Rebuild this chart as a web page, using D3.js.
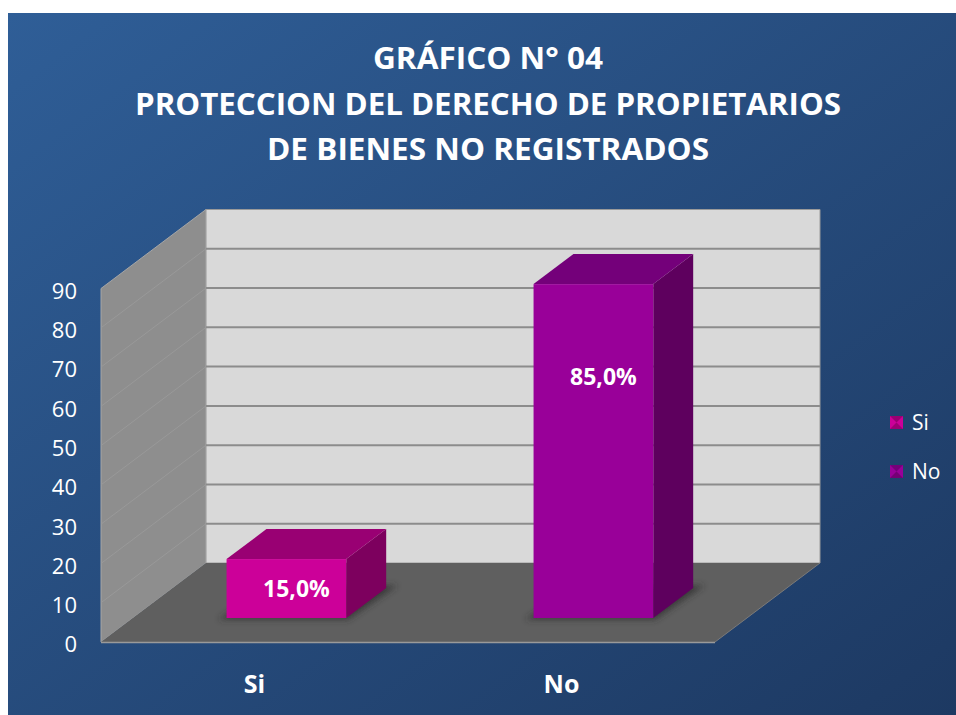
<!DOCTYPE html>
<html>
<head>
<meta charset="utf-8">
<script src="https://cdn.jsdelivr.net/npm/d3@7"></script>
<style>
  html, body { margin: 0; padding: 0; background: #ffffff; }
  svg { display: block; }
  text { font-family: "Open Sans", "Liberation Sans", sans-serif; fill: #ffffff; }
</style>
</head>
<body>
<div id="chart"></div>
<script>
// ---------- data ----------
const titleLines = ["GRÁFICO N° 04", "PROTECCION DEL DERECHO DE PROPIETARIOS", "DE BIENES NO REGISTRADOS"];
const categories = ["Si", "No"];
const values = [15.0, 85.0];
const valueLabels = ["15,0%", "85,0%"];
const yTicks = [0, 10, 20, 30, 40, 50, 60, 70, 80, 90];
const legendItems = ["Si", "No"];

// ---------- styles ----------
const barStyles = [
  { front: "#cc0099", top: "#990073", side: "#7d005e" },
  { front: "#990099", top: "#74007a", side: "#5e005e" }
];
const titleWidths = [230, 706, 442];

const W = 956, H = 715;
const svg = d3.select("#chart").append("svg").attr("width", W).attr("height", H);
const defs = svg.append("defs");

const bg = defs.append("linearGradient").attr("id", "bg")
  .attr("x1", "0").attr("y1", "0").attr("x2", "1").attr("y2", "1");
bg.append("stop").attr("offset", "0%").attr("stop-color", "#2f5e97");
bg.append("stop").attr("offset", "100%").attr("stop-color", "#1d3962");

const blur = defs.append("filter").attr("id", "shadow").attr("x", "-20%").attr("y", "-50%").attr("width", "140%").attr("height", "200%");
blur.append("feGaussianBlur").attr("stdDeviation", 3);

svg.append("rect").attr("x", 8).attr("y", 13).attr("width", W - 8).attr("height", H - 13)
  .attr("fill", "url(#bg)");

// ---------- title ----------
const titleBase = [69, 115, 160];
svg.append("g").selectAll("text").data(titleLines).join("text")
  .attr("x", 488).attr("y", (d, i) => titleBase[i])
  .attr("text-anchor", "middle")
  .attr("font-size", 30).attr("font-weight", "bold")
  .attr("textLength", (d, i) => titleWidths[i])
  .attr("lengthAdjust", "spacingAndGlyphs")
  .text(d => d);

// ---------- 3D geometry ----------
const y = d3.scaleLinear().domain([0, 90]).range([642, 288.5]);
const x = d3.scaleBand().domain(categories).range([101, 715]);
const DX = 105, DY = -79;
const P = (px, v, d) => [px + d * DX, y(v) + d * DY];
const poly = pts => "M" + pts.map(p => p.join(",")).join("L") + "Z";

const x0 = x.range()[0], x1 = x.range()[1];
const vMax = yTicks[yTicks.length - 1];

const g = svg.append("g");

// left wall
g.append("path").attr("d", poly([P(x0, 0, 0), P(x0, vMax, 0), P(x0, vMax, 1), P(x0, 0, 1)]))
  .attr("fill", "#8e8e8e").attr("stroke", "#a6a6a6").attr("stroke-width", 1);
// back wall
g.append("path").attr("d", poly([P(x0, 0, 1), P(x0, vMax, 1), P(x1, vMax, 1), P(x1, 0, 1)]))
  .attr("fill", "#d9d9d9").attr("stroke", "#9a9a9a").attr("stroke-width", 1);

// gridlines
const grid = g.append("g");
grid.selectAll("line.back").data(yTicks.slice(1, -1)).join("line").attr("class", "back")
  .attr("x1", d => P(x0, d, 1)[0]).attr("y1", d => P(x0, d, 1)[1])
  .attr("x2", d => P(x1, d, 1)[0]).attr("y2", d => P(x1, d, 1)[1])
  .attr("stroke", "#8c8c8c").attr("stroke-width", 2);
grid.selectAll("line.left").data(yTicks.slice(1, -1)).join("line").attr("class", "left")
  .attr("x1", d => P(x0, d, 0)[0]).attr("y1", d => P(x0, d, 0)[1])
  .attr("x2", d => P(x0, d, 1)[0]).attr("y2", d => P(x0, d, 1)[1])
  .attr("stroke", "#999999").attr("stroke-width", 1);

// floor
g.append("path").attr("d", poly([P(x0, 0, 0), P(x0, 0, 1), P(x1, 0, 1), P(x1, 0, 0)]))
  .attr("fill", "#5f5f5f");
g.append("line")
  .attr("x1", P(x0, 0, 0)[0]).attr("y1", P(x0, 0, 0)[1] + 0.5)
  .attr("x2", P(x1, 0, 0)[0]).attr("y2", P(x1, 0, 0)[1] + 0.5)
  .attr("stroke", "#9a9a9a").attr("stroke-width", 1.5);
g.append("line")
  .attr("x1", P(x1, 0, 0)[0]).attr("y1", P(x1, 0, 0)[1])
  .attr("x2", P(x1, 0, 1)[0]).attr("y2", P(x1, 0, 1)[1])
  .attr("stroke", "#7a7a7a").attr("stroke-width", 1);

// ---------- bars ----------
const d0 = 0.304, d1 = 0.684;
const barW = x.bandwidth() * 0.39;
const bars = g.append("g").selectAll("g").data(categories).join("g");

bars.each(function (c, i) {
  const sel = d3.select(this);
  const v = values[i];
  const cx = x(c) + x.bandwidth() / 2;
  const L = cx - barW / 2, R = cx + barW / 2;
  const st = barStyles[i];
  // shadow on floor
  sel.append("path")
    .attr("d", poly([P(L - 6, 0, d0 - 0.02), P(R + 4, 0, d0 - 0.02), P(R + 8, 0, d1 + 0.03), P(L, 0, d1 + 0.03)]))
    .attr("fill", "#2a2a2a").attr("opacity", 0.7).attr("filter", "url(#shadow)");
  // side
  sel.append("path").attr("d", poly([P(R, 0, d0), P(R, v, d0), P(R, v, d1), P(R, 0, d1)]))
    .attr("fill", st.side);
  // top
  sel.append("path").attr("d", poly([P(L, v, d0), P(L, v, d1), P(R, v, d1), P(R, v, d0)]))
    .attr("fill", st.top);
  // front
  const f0 = P(L, v, d0), f1 = P(R, 0, d0);
  sel.append("rect").attr("x", f0[0]).attr("y", f0[1])
    .attr("width", f1[0] - f0[0]).attr("height", f1[1] - f0[1])
    .attr("fill", st.front);
  // label
  const lx = (f0[0] + f1[0]) / 2 + 10;
  const ly = i === 0 ? (f0[1] + f1[1]) / 2 + 8 : P(L, v * 0.7, d0)[1] + 1;
  sel.append("text").attr("x", lx).attr("y", ly)
    .attr("text-anchor", "middle").attr("font-size", 23).attr("font-weight", "bold")
    .text(valueLabels[i]);
});

// ---------- axes ----------
const yAxis = d3.axisLeft(y).tickValues(yTicks).tickSize(0).tickPadding(24).tickFormat(d3.format("d"));
const ya = svg.append("g").attr("transform", `translate(${x0},0)`).call(yAxis);
ya.select(".domain").remove();
ya.selectAll("text").attr("font-size", 22).attr("fill", "#ffffff")
  .attr("font-family", "'Open Sans', 'Liberation Sans', sans-serif").attr("dy", "0.45em");

const xAxis = d3.axisBottom(x).tickSize(0).tickPadding(33);
const xa = svg.append("g").attr("transform", `translate(0,${y(0)})`).call(xAxis);
xa.select(".domain").remove();
xa.selectAll("text").attr("font-size", 25).attr("font-weight", "bold").attr("fill", "#ffffff")
  .attr("font-family", "'Open Sans', 'Liberation Sans', sans-serif");

// ---------- legend ----------
const legend = svg.append("g").selectAll("g").data(legendItems).join("g")
  .attr("transform", (d, i) => `translate(890,${416 + i * 49})`);
legend.append("rect").attr("width", 13).attr("height", 13).attr("fill", (d, i) => barStyles[i].front);
legend.append("path").attr("d", "M0,0L13,0L6.5,6.5Z").attr("fill", (d, i) => barStyles[i].top);
legend.append("path").attr("d", "M0,13L13,13L6.5,6.5Z").attr("fill", (d, i) => barStyles[i].side).attr("opacity", 0.6);
legend.append("text").attr("x", 22).attr("y", 6.5).attr("dy", "0.36em")
  .attr("font-size", 21).text(d => d);
</script>
</body>
</html>
